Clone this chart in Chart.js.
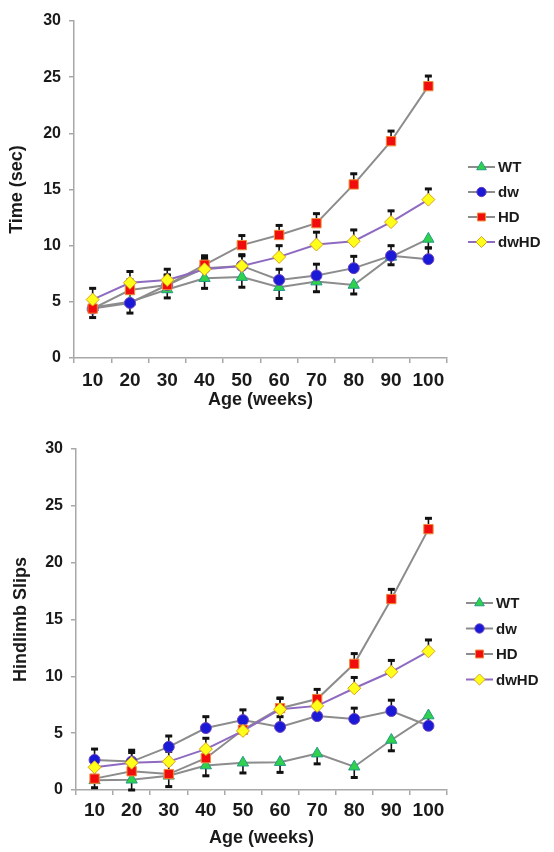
<!DOCTYPE html>
<html>
<head>
<meta charset="utf-8">
<script src="https://cdn.jsdelivr.net/npm/chart.js@4.4.0/dist/chart.umd.min.js"></script>
<style>
  html, body { margin: 0; padding: 0; background: #fff; }
  .box { position: absolute; left: 0; width: 554px; }
  #top-box { top: 0; height: 420px; }
  #bottom-box { top: 420px; height: 432px; }
</style>
</head>
<body>
<div class="box" id="top-box"><canvas id="time-chart" width="554" height="420"></canvas></div>
<div class="box" id="bottom-box"><canvas id="slip-chart" width="554" height="432"></canvas></div>
<script>
// =====================
// data
// =====================
const ages = ['10', '20', '30', '40', '50', '60', '70', '80', '90', '100'];
const groups = ['WT', 'dw', 'HD', 'dwHD'];
const yTicks = [0, 5, 10, 15, 20, 25, 30];

// Time (sec)
const timeWT   = [4.5, 5.0, 6.1, 7.1, 7.2, 6.3, 6.8, 6.5, 9.0, 10.6];
const timeDw   = [4.4, 4.9, 6.5, 8.0, 8.2, 6.95, 7.35, 8.0, 9.1, 8.8];
const timeHD   = [4.4, 6.05, 6.5, 8.3, 10.05, 10.95, 12.0, 15.45, 19.3, 24.2];
const timeDwHD = [5.2, 6.7, 6.95, 7.9, 8.2, 9.0, 10.1, 10.4, 12.1, 14.1];
const timeWTErr   = [0.9, 1.0, 0.75, 0.9, 0.9, 1.0, 0.9, 0.8, 0.7, 0.8];
const timeDwErr   = [0.8, 0.9, 0.9, 0.9, 0.9, 0.95, 1.0, 1.05, 0.9, 1.0];
const timeHDErr   = [0.8, 0.9, 0.85, 0.8, 0.85, 0.85, 0.85, 0.95, 0.9, 0.9];
const timeDwHDErr = [1.0, 1.0, 0.95, 0.9, 1.0, 1.0, 1.1, 1.0, 1.0, 0.95];

// Hindlimb slips
const slipWT   = [0.85, 0.9, 1.25, 2.15, 2.4, 2.45, 3.2, 2.05, 4.4, 6.55];
const slipDw   = [2.65, 2.5, 3.8, 5.45, 6.15, 5.55, 6.5, 6.25, 6.95, 5.65];
const slipHD   = [1.0, 1.65, 1.4, 2.8, 5.3, 7.2, 8.0, 11.1, 16.8, 22.95];
const slipDwHD = [2.0, 2.4, 2.5, 3.6, 5.2, 7.1, 7.4, 8.95, 10.4, 12.2];
const slipWTErr   = [0.65, 0.9, 0.95, 0.9, 0.9, 0.9, 0.9, 0.95, 0.95, 0.8];
const slipDwErr   = [0.95, 1.0, 0.95, 1.0, 0.9, 0.9, 0.9, 0.95, 0.95, 0.9];
const slipHDErr   = [0.9, 0.9, 0.9, 0.9, 0.9, 0.9, 0.85, 0.9, 0.85, 0.95];
const slipDwHDErr = [0.9, 0.9, 0.9, 0.95, 0.9, 0.95, 0.9, 0.95, 1.0, 1.0];

// =====================
// styles
// =====================
const FONT = "'Liberation Sans', Arial, sans-serif";
const AXIS_GRAY = '#a8a8a8';
const TEXT = '#1a1a1a';
const look = {
  WT:   { line: '#8c8c8c', fill: '#2fd24a', border: '#229a86', shape: 'triangle', r: 6.5, dir: 'down', order: 4 },
  dw:   { line: '#8c8c8c', fill: '#1a1ad6', border: '#6a3fc0', shape: 'circle',   r: 5.5, dir: 'up',   order: 3 },
  HD:   { line: '#8c8c8c', fill: '#f20d0d', border: '#ee8c3a', shape: 'rect',     r: 6.6, dir: 'up',   order: 2 },
  dwHD: { line: '#8e6ac0', fill: '#ffff1a', border: '#d9a21b', shape: 'rectRot',  r: 6.5, dir: 'up',   order: 1 },
};

Chart.defaults.font.family = FONT;

// 誤差線 (畫在點的下面)
const errorBars = {
  id: 'errorBars',
  beforeDatasetsDraw(chart) {
    const ctx = chart.ctx;
    const yScale = chart.scales.y;
    ctx.save();
    ctx.strokeStyle = '#111';
    ctx.fillStyle = '#111';
    ctx.lineWidth = 1.6;
    chart.data.datasets.forEach((ds, i) => {
      const meta = chart.getDatasetMeta(i);
      ds.errors.forEach((e, j) => {
        const pt = meta.data[j];
        const v = ds.data[j] + (ds.errorDir === 'down' ? -e : e);
        const y1 = yScale.getPixelForValue(v);
        ctx.beginPath();
        ctx.moveTo(pt.x, pt.y);
        ctx.lineTo(pt.x, y1);
        ctx.stroke();
        ctx.fillRect(pt.x - 3.5, y1 - 1.5, 7, 3);
      });
    });
    ctx.restore();
  }
};

// 圖例：線 + 點 + 文字
const lineLegend = {
  id: 'lineLegend',
  afterDraw(chart, args, opts) {
    const ctx = chart.ctx;
    ctx.save();
    groups.forEach((g, k) => {
      const ds = chart.data.datasets.find(d => d.label === g);
      const y = opts.y + k * opts.gap;
      ctx.strokeStyle = ds.borderColor;
      ctx.lineWidth = 2;
      ctx.beginPath();
      ctx.moveTo(opts.x, y);
      ctx.lineTo(opts.x + opts.len, y);
      ctx.stroke();
      ctx.fillStyle = ds.pointBackgroundColor;
      ctx.strokeStyle = ds.pointBorderColor;
      ctx.lineWidth = 1;
      Chart.helpers.drawPoint(ctx, { pointStyle: ds.pointStyle, radius: ds.pointRadius * 0.85, borderWidth: 1, rotation: 0 }, opts.x + opts.len / 2, y);
      ctx.fillStyle = TEXT;
      ctx.font = 'bold 15px ' + FONT;
      ctx.textBaseline = 'middle';
      ctx.textAlign = 'left';
      ctx.fillText(g, opts.x + opts.len + 3, y + 1);
    });
    ctx.restore();
  }
};

function makeDatasets(values, errs) {
  return groups.map((g, i) => ({
    label: g,
    data: values[i],
    errors: errs[i],
    errorDir: look[g].dir,
    order: look[g].order,
    borderColor: look[g].line,
    borderWidth: 2,
    tension: 0,
    fill: false,
    pointStyle: look[g].shape,
    pointRadius: look[g].r,
    pointBackgroundColor: look[g].fill,
    pointBorderColor: look[g].border,
    pointBorderWidth: 1,
  }));
}

function makeChart(id, o) {
  return new Chart(document.getElementById(id), {
    type: 'line',
    data: { labels: ages, datasets: makeDatasets(o.values, o.errs) },
    options: {
      responsive: false,
      animation: false,
      layout: { padding: { left: 0, right: 107, top: o.top, bottom: 0 } },
      plugins: {
        legend: { display: false },
        tooltip: { enabled: false },
        lineLegend: o.legend,
      },
      scales: {
        x: {
          type: 'category',
          offset: true,
          grid: { offset: true, drawOnChartArea: false, drawTicks: true, tickLength: 5, color: AXIS_GRAY, lineWidth: 1.5 },
          border: { color: AXIS_GRAY, width: 1.5 },
          ticks: { color: TEXT, font: { size: 19, weight: 'bold' }, padding: o.xTickPad, maxRotation: 0, autoSkip: false },
          title: { display: true, text: 'Age (weeks)', color: TEXT, font: { size: 18, weight: 'bold' }, padding: { top: 0, bottom: o.xTitlePad } },
          afterFit: s => { s.height = o.xHeight; },
        },
        y: {
          min: 0,
          max: 30,
          afterBuildTicks: s => { s.ticks = yTicks.map(v => ({ value: v })); },
          grid: { drawOnChartArea: false, drawTicks: true, tickLength: 5, color: AXIS_GRAY, lineWidth: 1.5 },
          border: { color: AXIS_GRAY, width: 1.5 },
          ticks: { color: TEXT, font: { size: 16, weight: 'bold' }, padding: 8 },
          title: { display: true, text: o.yTitle, color: TEXT, font: { size: 18, weight: 'bold' }, padding: { top: o.yTitlePad, bottom: 0 } },
          afterFit: s => { s.width = o.yWidth; },
        },
      },
    },
    plugins: [errorBars, lineLegend],
  });
}

makeChart('time-chart', {
  values: [timeWT, timeDw, timeHD, timeDwHD],
  errs: [timeWTErr, timeDwErr, timeHDErr, timeDwHDErr],
  yTitle: 'Time (sec)',
  top: 21, xHeight: 62, yWidth: 74,
  xTickPad: 6, xTitlePad: 9, yTitlePad: 6,
  legend: { x: 468, y: 167, gap: 25, len: 27 },
});

makeChart('slip-chart', {
  values: [slipWT, slipDw, slipHD, slipDwHD],
  errs: [slipWTErr, slipDwErr, slipHDErr, slipDwHDErr],
  yTitle: 'Hindlimb Slips',
  top: 29, xHeight: 62, yWidth: 76,
  xTickPad: 4, xTitlePad: 3, yTitlePad: 10,
  legend: { x: 466, y: 183, gap: 25.5, len: 27 },
});
</script>
</body>
</html>
